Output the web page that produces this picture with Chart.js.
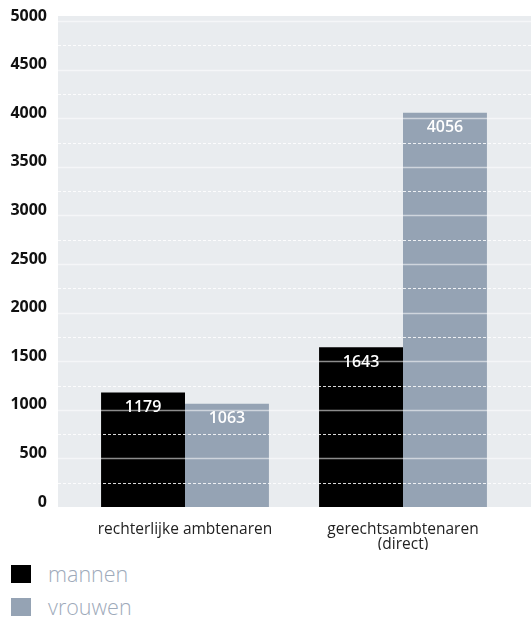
<!DOCTYPE html>
<html>
<head>
<meta charset="utf-8">
<script src="https://cdn.jsdelivr.net/npm/chart.js@4"></script>
<style>
  body { margin: 0; background: #fff; font-family: "Open Sans", sans-serif; }
  #wrap { position: relative; width: 531px; height: 556px; }
  #legend { position: absolute; left: 11px; top: 565px; }
  .item { display: flex; align-items: center; height: 18px; margin-bottom: 15px; }
  .box { width: 20px; height: 18px; margin-right: 17px; }
  .lbl { font-size: 21.5px; font-weight: 300; color: #9eaaba; line-height: 18px; }
</style>
</head>
<body>
<div id="wrap"><canvas id="chart"></canvas></div>
<div id="legend"></div>
<script>
const categories = ['rechterlijke ambtenaren', ['gerechtsambtenaren', '(direct)']];
const seriesNames = ['mannen', 'vrouwen'];
const mannen = [1179, 1643];
const vrouwen = [1063, 4056];
const yTicks = [0, 500, 1000, 1500, 2000, 2500, 3000, 3500, 4000, 4500, 5000];
const colors = ['#000000', '#95a3b4'];

// plot background, a bit wider than the chart area
const bgPlugin = {
    id: 'bg',
    beforeDraw(chart) {
        const a = chart.chartArea, c = chart.ctx;
        c.save();
        c.fillStyle = '#e9ecef';
        c.fillRect(a.left - 18, a.top - 5, chart.width - a.left + 18, a.bottom - a.top + 5);
        c.restore();
    }
};

// value labels + grid drawn over the bars
const overPlugin = {
    id: 'over',
    afterDatasetsDraw(chart) {
        const c = chart.ctx, a = chart.chartArea, y = chart.scales.y;
        c.save();
        c.fillStyle = '#ffffff';
        c.font = '600 16px "Open Sans"';
        c.textAlign = 'center';
        c.textBaseline = 'middle';
        chart.data.datasets.forEach((ds, i) => {
            chart.getDatasetMeta(i).data.forEach((bar, j) => {
                c.fillText(ds.data[j], bar.x, bar.y + 15);
            });
        });
        const x0 = a.left - 18, x1 = chart.width;
        for (let v = 250; v <= 5000; v += 250) {
            const py = Math.round(y.getPixelForValue(v)) + 0.5;
            c.beginPath();
            if (v % 500 === 0) {
                c.setLineDash([]);
                c.strokeStyle = 'rgba(255,255,255,0.55)';
                c.lineWidth = 1.5;
            } else {
                c.setLineDash([3, 2]);
                c.strokeStyle = 'rgba(255,255,255,0.85)';
                c.lineWidth = 1;
            }
            c.moveTo(x0, py);
            c.lineTo(x1, py);
            c.stroke();
        }
        c.restore();
    }
};

const chart = new Chart(document.getElementById('chart'), {
    type: 'bar',
    data: {
        labels: categories,
        datasets: [
            { label: seriesNames[0], data: mannen, backgroundColor: colors[0] },
            { label: seriesNames[1], data: vrouwen, backgroundColor: colors[1] }
        ]
    },
    options: {
        responsive: true,
        maintainAspectRatio: false,
        animation: false,
        layout: { padding: { top: 21, left: 10, right: 19, bottom: 6 } },
        datasets: { bar: { barPercentage: 1, categoryPercentage: 0.77 } },
        scales: {
            x: {
                afterFit(scale) { scale.height = 43; },
                grid: { display: false, drawTicks: false },
                border: { display: false },
                ticks: {
                    color: '#222',
                    padding: 15,
                    font: { family: 'Open Sans', size: 15.5, lineHeight: 0.97 }
                }
            },
            y: {
                min: 0,
                max: 5000,
                afterBuildTicks(scale) { scale.ticks = yTicks.map(v => ({ value: v })); },
                afterFit(scale) {
                    scale.width = 66;
                    scale.paddingTop = 0;
                    scale.paddingBottom = 0;
                },
                grid: { display: false, drawTicks: false },
                border: { display: false },
                ticks: {
                    color: '#111',
                    padding: 29,
                    labelOffset: -5,
                    callback: v => String(v),
                    font: { family: 'Open Sans', size: 16, weight: 'bold' }
                }
            }
        },
        plugins: {
            legend: { display: false },
            tooltip: { enabled: false }
        }
    },
    plugins: [bgPlugin, overPlugin]
});

// legend under the chart
document.getElementById('legend').innerHTML = chart.data.datasets.map(ds =>
    '<div class="item"><div class="box" style="background:' + ds.backgroundColor + '"></div>' +
    '<span class="lbl">' + ds.label + '</span></div>').join('');
</script>
</body>
</html>
